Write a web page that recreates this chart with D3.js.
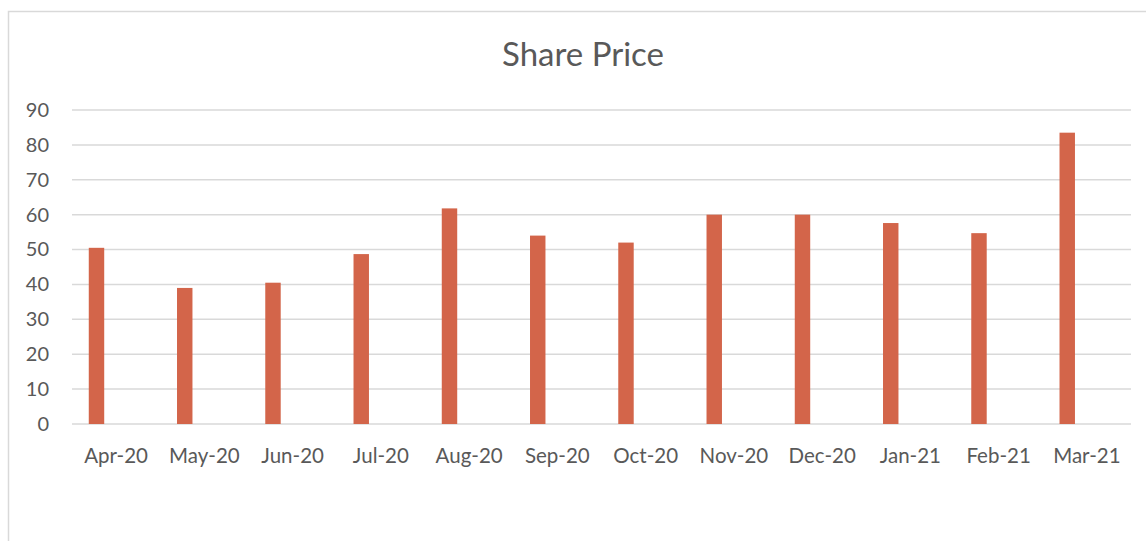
<!DOCTYPE html>
<html>
<head>
<meta charset="utf-8">
<script src="https://cdn.jsdelivr.net/npm/d3@7"></script>
<style>
  body { margin: 0; background: #fff; }
  text { font-family: Lato, "Open Sans", sans-serif; fill: #595959; }
</style>
</head>
<body>
<div id="chart"></div>
<script>
// chart values
const months = ["Apr-20", "May-20", "Jun-20", "Jul-20", "Aug-20", "Sep-20",
                "Oct-20", "Nov-20", "Dec-20", "Jan-21", "Feb-21", "Mar-21"];
const prices = [50.5, 39.0, 40.5, 48.7, 61.8, 54.0, 52.0, 60.0, 60.0, 57.6, 54.7, 83.5];
const yTicks = [0, 10, 20, 30, 40, 50, 60, 70, 80, 90];

const W = 1146, H = 541;
let margin = { top: 110, bottom: 117, left: 72, right: 15 };
let width = W - margin.left - margin.right,
    height = H - margin.top - margin.bottom;

let svg = d3.select('#chart')
    .append('svg')
    .attr('width', W)
    .attr('height', H);

// chart area border
svg.append('rect')
    .attr('x', 8.5).attr('y', 11.5)
    .attr('width', W + 20).attr('height', H + 20)
    .attr('fill', 'none')
    .attr('stroke', '#d9d9d9')
    .attr('stroke-width', 1.5);

svg.append('text')
    .attr('x', 583)
    .attr('y', 66)
    .attr('text-anchor', 'middle')
    .style('font-size', '33px')
    .text('Share Price');

let g = svg.append('g')
    .attr('transform', `translate(${margin.left},${margin.top})`);

// Scales
let x = d3.scaleBand().domain(months).range([0, width]).padding(0);
let y = d3.scaleLinear().domain([0, 90]).range([height, 0]);

// gridlines
g.selectAll('.grid')
    .data(yTicks)
    .join('line')
    .attr('class', 'grid')
    .attr('x1', 0).attr('x2', width)
    .attr('y1', d => y(d)).attr('y2', d => y(d))
    .attr('stroke', '#d9d9d9')
    .attr('stroke-width', 1.5);

// y axis labels
let yaxis = d3.axisLeft(y).tickValues(yTicks).tickSize(0).tickPadding(23);
g.append('g').call(yaxis)
    .call(a => a.select('.domain').remove())
    .selectAll('text')
    .style('font-size', '20px')
    .attr('fill', '#595959');

// bars
g.selectAll('.bar')
    .data(prices)
    .join('rect')
    .attr('class', 'bar')
    .attr('x', (d, i) => x(months[i]) + x.bandwidth() * 0.19)
    .attr('width', x.bandwidth() * 0.175)
    .attr('y', d => y(d))
    .attr('height', d => y(0) - y(d))
    .attr('fill', '#d3654a');

// x axis labels
let xaxis = d3.axisBottom(x).tickSize(0).tickPadding(24);
g.append('g')
    .attr('transform', `translate(0,${height})`)
    .call(xaxis)
    .call(a => a.select('.domain').remove())
    .selectAll('text')
    .style('font-size', '20.5px')
    .attr('fill', '#595959');
</script>
</body>
</html>
